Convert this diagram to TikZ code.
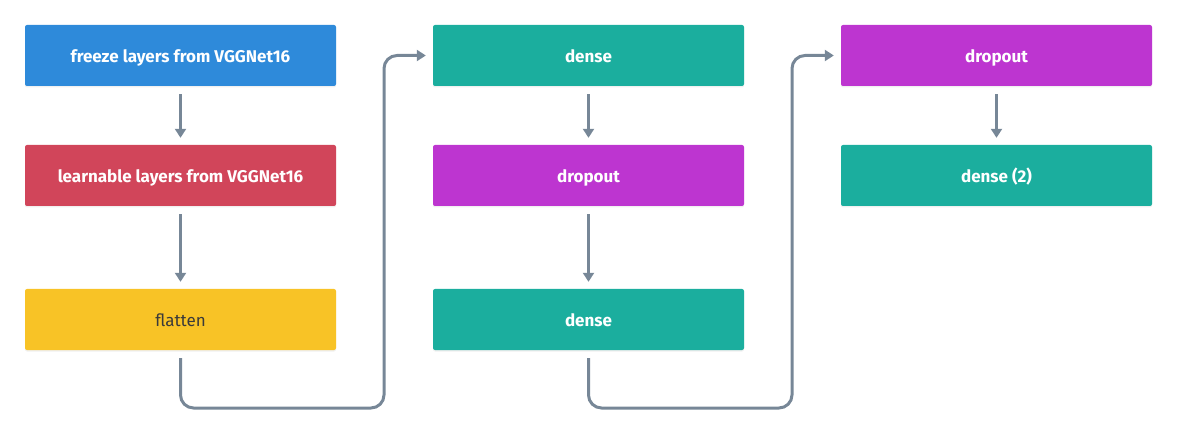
\documentclass[tikz,border=0pt]{standalone}
\usepackage{fontspec}
\setmainfont{Fira Sans}
\usetikzlibrary{arrows.meta,shadows}
\definecolor{cblue}{HTML}{2E8ADA}
\definecolor{cred}{HTML}{D1455A}
\definecolor{cyellow}{HTML}{F8C326}
\definecolor{cteal}{HTML}{1BAE9E}
\definecolor{cpurple}{HTML}{BD35D0}
\definecolor{cline}{HTML}{778797}
\definecolor{cdark}{HTML}{3A3A3A}
\begin{document}
\begin{tikzpicture}[x=1pt,y=-1pt,
  box/.style={rectangle, rounded corners=2pt, minimum width=311pt, minimum height=61pt,
    inner sep=0pt, text height=14.5pt, text depth=0pt,
    font=\fontsize{17}{19}\selectfont\bfseries, text=white,
    drop shadow={shadow xshift=0pt, shadow yshift=-1.5pt, opacity=0.12}},
  conn/.style={draw=cline, line width=3pt, -{Triangle[length=9pt,width=11pt]}},
  elbow/.style={conn, rounded corners=13pt}]
\useasboundingbox (0,0) rectangle (1178,438);
\node[box, fill=cblue] (f) at (180.5,55.5) {freeze layers from VGGNet16};
\node[box, fill=cred] (l) at (180.5,175.5) {learnable layers from VGGNet16};
\node[box, fill=cyellow, text=cdark, font=\fontsize{17}{19}\selectfont] (fl) at (180.5,319.5) {flatten};
\node[box, fill=cteal] (d1) at (588.5,55.5) {dense};
\node[box, fill=cpurple] (p1) at (588.5,175.5) {dropout};
\node[box, fill=cteal] (d2) at (588.5,319.5) {dense};
\node[box, fill=cpurple] (p2) at (996.5,55.5) {dropout};
\node[box, fill=cteal] (d3) at (996.5,175.5) {dense (2)};
\coordinate (a1) at (180.5,408);
\coordinate (b1) at (384,408);
\coordinate (c1) at (384,55.5);
\coordinate (a2) at (588.5,408);
\coordinate (b2) at (792,408);
\coordinate (c2) at (792,55.5);
\draw[conn] ([yshift=-8pt]f.south) -- ([yshift=7pt]l.north);
\draw[conn] ([yshift=-8pt]l.south) -- ([yshift=7pt]fl.north);
\draw[conn] ([yshift=-8pt]d1.south) -- ([yshift=7pt]p1.north);
\draw[conn] ([yshift=-8pt]p1.south) -- ([yshift=7pt]d2.north);
\draw[conn] ([yshift=-8pt]p2.south) -- ([yshift=7pt]d3.north);
\draw[elbow] ([yshift=-8pt]fl.south) -- (a1) -- (b1) -- (c1) -- ([xshift=-7pt]d1.west);
\draw[elbow] ([yshift=-8pt]d2.south) -- (a2) -- (b2) -- (c2) -- ([xshift=-7pt]p2.west);
\end{tikzpicture}
\end{document}
